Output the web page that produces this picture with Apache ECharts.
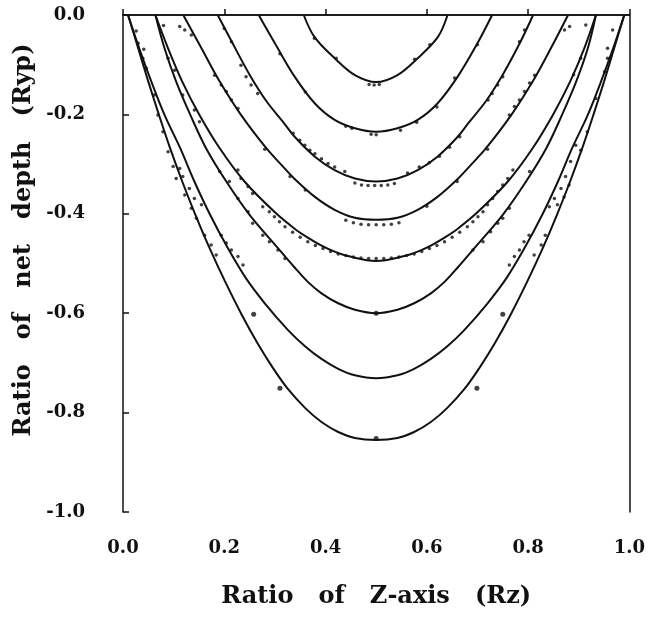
<!DOCTYPE html>
<html>
<head>
<meta charset="utf-8">
<script src="https://cdn.jsdelivr.net/npm/echarts@6/dist/echarts.min.js"></script>
<style>
  html, body { margin: 0; padding: 0; background: #fff; }
  #chart { width: 648px; height: 619px; }
</style>
</head>
<body>
<div id="chart"></div>
<script>
// axis ticks
const xTicks = [0.0, 0.2, 0.4, 0.6, 0.8, 1.0]
const yTicks = [-1.0, -0.8, -0.6, -0.4, -0.2, 0.0]

// solid (computed) curves, [Rz, Ryp]
const curve1 = [[0.357,0],[0.378,-0.044],[0.418,-0.087],[0.458,-0.121],[0.5,-0.135],[0.542,-0.121],[0.582,-0.087],[0.622,-0.044],[0.641,0]]
const curve2 = [[0.268,0],[0.300,-0.057],[0.339,-0.124],[0.379,-0.178],[0.418,-0.211],[0.458,-0.228],[0.5,-0.235],[0.542,-0.228],[0.582,-0.211],[0.621,-0.178],[0.661,-0.124],[0.700,-0.057],[0.729,0]]
const curve3 = [[0.187,0],[0.217,-0.058],[0.250,-0.120],[0.283,-0.173],[0.316,-0.215],[0.339,-0.245],[0.379,-0.285],[0.418,-0.312],[0.458,-0.329],[0.5,-0.335],[0.542,-0.329],[0.582,-0.312],[0.621,-0.285],[0.661,-0.245],[0.684,-0.215],[0.717,-0.173],[0.750,-0.120],[0.783,-0.058],[0.810,0]]
const curve4 = [[0.119,0],[0.155,-0.067],[0.191,-0.134],[0.233,-0.201],[0.283,-0.268],[0.316,-0.305],[0.339,-0.330],[0.379,-0.366],[0.418,-0.392],[0.458,-0.408],[0.5,-0.412],[0.542,-0.408],[0.582,-0.392],[0.621,-0.366],[0.661,-0.330],[0.684,-0.305],[0.717,-0.268],[0.767,-0.201],[0.809,-0.134],[0.845,-0.067],[0.879,0]]
const curve5 = [[0.064,0],[0.089,-0.067],[0.117,-0.134],[0.151,-0.201],[0.191,-0.268],[0.240,-0.335],[0.300,-0.397],[0.339,-0.430],[0.365,-0.448],[0.392,-0.464],[0.418,-0.476],[0.444,-0.485],[0.5,-0.495],[0.556,-0.485],[0.582,-0.476],[0.608,-0.464],[0.635,-0.448],[0.661,-0.430],[0.700,-0.397],[0.760,-0.335],[0.809,-0.268],[0.849,-0.201],[0.883,-0.134],[0.911,-0.067],[0.934,0]]
const curve6 = [[0.064,0],[0.082,-0.067],[0.105,-0.134],[0.133,-0.201],[0.164,-0.268],[0.204,-0.335],[0.250,-0.402],[0.306,-0.469],[0.339,-0.508],[0.365,-0.537],[0.392,-0.560],[0.425,-0.580],[0.458,-0.593],[0.5,-0.600],[0.542,-0.593],[0.575,-0.580],[0.608,-0.560],[0.635,-0.537],[0.661,-0.508],[0.694,-0.469],[0.750,-0.402],[0.796,-0.335],[0.836,-0.268],[0.867,-0.201],[0.895,-0.134],[0.918,-0.067],[0.934,0]]
const curve7 = [[0.010,0],[0.032,-0.067],[0.056,-0.134],[0.082,-0.201],[0.113,-0.268],[0.141,-0.335],[0.172,-0.402],[0.207,-0.469],[0.243,-0.530],[0.280,-0.580],[0.326,-0.634],[0.360,-0.667],[0.392,-0.692],[0.425,-0.712],[0.458,-0.725],[0.5,-0.731],[0.542,-0.725],[0.575,-0.712],[0.608,-0.692],[0.640,-0.667],[0.674,-0.634],[0.720,-0.580],[0.757,-0.530],[0.793,-0.469],[0.828,-0.402],[0.859,-0.335],[0.887,-0.268],[0.918,-0.201],[0.944,-0.134],[0.968,-0.067],[0.990,0]]
const curve8 = [[0.010,0],[0.030,-0.067],[0.050,-0.134],[0.071,-0.201],[0.093,-0.268],[0.117,-0.335],[0.143,-0.402],[0.171,-0.469],[0.202,-0.537],[0.235,-0.604],[0.266,-0.661],[0.296,-0.710],[0.326,-0.753],[0.360,-0.791],[0.392,-0.819],[0.425,-0.839],[0.458,-0.851],[0.5,-0.855],[0.542,-0.851],[0.575,-0.839],[0.608,-0.819],[0.640,-0.791],[0.674,-0.753],[0.704,-0.710],[0.734,-0.661],[0.765,-0.604],[0.798,-0.537],[0.829,-0.469],[0.857,-0.402],[0.883,-0.335],[0.907,-0.268],[0.929,-0.201],[0.950,-0.134],[0.970,-0.067],[0.990,0]]

// measured points (small dots)
const dotsUpper = [
  [0.378,-0.047],[0.421,-0.087],[0.486,-0.140],[0.496,-0.141],[0.506,-0.140],[0.576,-0.089],[0.606,-0.060],
  [0.310,-0.078],[0.360,-0.155],[0.440,-0.224],[0.452,-0.228],[0.490,-0.240],[0.500,-0.241],
  [0.548,-0.232],[0.580,-0.216],[0.620,-0.185],[0.655,-0.127],[0.700,-0.060],
  [0.200,-0.027],[0.214,-0.054],[0.233,-0.101],[0.243,-0.124],[0.253,-0.141],[0.266,-0.158],
  [0.336,-0.238],[0.349,-0.252],[0.359,-0.262],[0.369,-0.272],[0.379,-0.279],[0.392,-0.289],[0.405,-0.299],[0.418,-0.306],[0.438,-0.315],
  [0.458,-0.338],[0.471,-0.342],[0.484,-0.343],[0.497,-0.343],[0.510,-0.343],[0.523,-0.342],[0.536,-0.339],
  [0.562,-0.318],[0.585,-0.306],[0.605,-0.297],[0.625,-0.284],[0.645,-0.266],[0.665,-0.245],
  [0.721,-0.171],[0.729,-0.158],[0.740,-0.141],[0.750,-0.124],[0.783,-0.054],[0.793,-0.030]
]
const dotsMiddle = [
  [0.112,-0.023],[0.122,-0.030],[0.135,-0.040],[0.181,-0.121],[0.194,-0.141],[0.204,-0.154],[0.214,-0.171],[0.227,-0.188],
  [0.280,-0.270],[0.330,-0.325],[0.360,-0.352],
  [0.440,-0.413],[0.455,-0.418],[0.470,-0.421],[0.485,-0.422],[0.500,-0.422],[0.515,-0.422],[0.530,-0.421],[0.545,-0.418],
  [0.600,-0.385],[0.660,-0.335],[0.720,-0.270],[0.763,-0.201],[0.773,-0.184],[0.783,-0.171],[0.793,-0.154],[0.803,-0.137],[0.813,-0.121],
  [0.872,-0.030],[0.882,-0.023],
  [0.080,-0.021],[0.227,-0.312],[0.233,-0.329],[0.247,-0.345],[0.256,-0.359],[0.276,-0.386],[0.289,-0.396],[0.299,-0.406],[0.309,-0.416],
  [0.320,-0.426],[0.335,-0.437],[0.350,-0.447],[0.365,-0.456],[0.380,-0.464],[0.395,-0.470],[0.410,-0.476],[0.425,-0.481],[0.440,-0.484],
  [0.455,-0.487],[0.470,-0.489],[0.485,-0.490],[0.500,-0.490],[0.515,-0.490],[0.530,-0.489],[0.545,-0.487],[0.560,-0.484],[0.575,-0.481],
  [0.590,-0.476],[0.605,-0.470],[0.620,-0.464],[0.635,-0.456],[0.650,-0.447],[0.665,-0.437],[0.680,-0.426],
  [0.691,-0.416],[0.701,-0.406],[0.711,-0.396],[0.720,-0.382],[0.730,-0.369],[0.740,-0.355],[0.750,-0.342],[0.760,-0.329],[0.770,-0.312],
  [0.914,-0.020]
]
const dotsLower = [
  [0.089,-0.087],[0.102,-0.111],[0.118,-0.161],[0.141,-0.191],[0.151,-0.215],[0.191,-0.315],[0.210,-0.335],[0.227,-0.369],
  [0.247,-0.396],[0.256,-0.419],[0.276,-0.443],[0.289,-0.456],[0.306,-0.473],[0.320,-0.490],
  [0.904,-0.087],[0.890,-0.120],[0.803,-0.315],[0.763,-0.389],[0.750,-0.409],[0.740,-0.419],[0.726,-0.436],[0.711,-0.456],[0.691,-0.473],
  [0.026,-0.032],[0.030,-0.057],[0.041,-0.069],[0.039,-0.087],[0.046,-0.107],[0.062,-0.161],[0.069,-0.201],[0.079,-0.235],[0.089,-0.275],
  [0.099,-0.305],[0.105,-0.329],[0.112,-0.309],[0.118,-0.325],[0.122,-0.362],[0.131,-0.349],[0.135,-0.389],[0.141,-0.369],[0.145,-0.409],
  [0.155,-0.382],[0.161,-0.443],[0.174,-0.463],[0.184,-0.483],[0.194,-0.443],[0.204,-0.459],[0.214,-0.473],[0.227,-0.486],[0.237,-0.503],
  [0.967,-0.030],[0.957,-0.067],[0.957,-0.087],[0.951,-0.114],[0.934,-0.168],[0.917,-0.235],[0.904,-0.272],[0.894,-0.262],[0.884,-0.295],
  [0.874,-0.325],[0.881,-0.342],[0.865,-0.349],[0.871,-0.366],[0.852,-0.369],[0.858,-0.382],[0.842,-0.386],[0.834,-0.443],[0.826,-0.463],
  [0.812,-0.483],[0.802,-0.443],[0.792,-0.456],[0.783,-0.473],[0.773,-0.486],[0.763,-0.503]
]
// isolated measured points (bigger dots)
const dotsSingle = [[0.258,-0.602],[0.310,-0.751],[0.500,-0.600],[0.500,-0.852],[0.750,-0.602],[0.699,-0.751]]

const curves = [curve1, curve2, curve3, curve4, curve5, curve6, curve7, curve8]
const FONT = 'DejaVu Serif'

const chart = echarts.init(document.getElementById('chart'))

const lineSeries = curves.map((c, i) => ({
    name: 'curve' + (i + 1),
    type: 'line',
    data: c,
    smooth: 0.35,
    showSymbol: false,
    silent: true,
    lineStyle: { color: '#111', width: 2 },
    z: 3
}))

const dotSeries = [dotsUpper, dotsMiddle, dotsLower].map((d, i) => ({
    name: 'dots' + i,
    type: 'scatter',
    data: d,
    symbol: 'circle',
    symbolSize: 3.5,
    itemStyle: { color: '#111' },
    z: 4
}))

chart.setOption({
    animation: false,
    grid: { left: 123, right: 18, top: 15, bottom: 107 },
    xAxis: [{
        type: 'value',
        min: xTicks[0],
        max: xTicks[xTicks.length - 1],
        interval: 0.2,
        name: 'Ratio   of   Z-axis   (Rz)',
        nameLocation: 'middle',
        nameGap: 73,
        nameTextStyle: { fontFamily: FONT, fontWeight: 'bold', fontSize: 24, color: '#111' },
        axisLine: { show: true, lineStyle: { color: '#111', width: 1.5 } },
        axisTick: { show: true, inside: true, length: 6, lineStyle: { color: '#111', width: 1.5 } },
        axisLabel: {
            margin: 27,
            fontFamily: FONT, fontWeight: 'bold', fontSize: 18, color: '#111',
            formatter: v => v.toFixed(1)
        },
        splitLine: { show: false }
    }, {
        type: 'value',
        position: 'top',
        min: 0, max: 1,
        axisLine: { show: true, onZero: false, lineStyle: { color: '#111', width: 1.5 } },
        axisTick: { show: false },
        axisLabel: { show: false },
        splitLine: { show: false }
    }],
    yAxis: [{
        type: 'value',
        min: yTicks[0],
        max: yTicks[yTicks.length - 1],
        interval: 0.2,
        name: 'Ratio   of   net   depth   (Ryp)',
        nameLocation: 'middle',
        nameGap: 80,
        nameTextStyle: { fontFamily: FONT, fontWeight: 'bold', fontSize: 24, color: '#111', padding: [0, 0, 0, 47] },
        axisLine: { show: true, onZero: false, lineStyle: { color: '#111', width: 1.5 } },
        axisTick: { show: true, inside: true, length: 6, lineStyle: { color: '#111', width: 1.5 } },
        axisLabel: {
            margin: 38,
            fontFamily: FONT, fontWeight: 'bold', fontSize: 18, color: '#111',
            formatter: v => (v === 0 ? '0.0' : v.toFixed(1))
        },
        splitLine: { show: false }
    }, {
        type: 'value',
        position: 'right',
        min: -1, max: 0,
        axisLine: { show: true, onZero: false, lineStyle: { color: '#111', width: 1.5 } },
        axisTick: { show: false },
        axisLabel: { show: false },
        splitLine: { show: false }
    }],
    series: lineSeries.concat(dotSeries, [{
        name: 'single',
        type: 'scatter',
        data: dotsSingle,
        symbol: 'circle',
        symbolSize: 5,
        itemStyle: { color: '#111' },
        z: 4
    }])
})
</script>
</body>
</html>
